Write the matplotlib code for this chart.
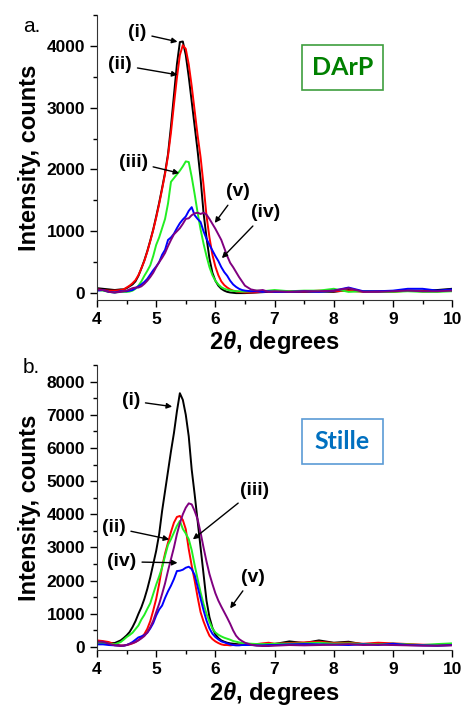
"""XRD intensity vs 2theta, DArP and Stille polymers."""
import numpy as np
from matplotlib import pyplot as plt
from matplotlib.patches import Rectangle
from matplotlib.ticker import MultipleLocator

plt.rcParams['font.family'] = ['Liberation Sans', 'DejaVu Sans']
plt.rcParams['font.weight'] = 'bold'
plt.rcParams['mathtext.fontset'] = 'custom'
plt.rcParams['mathtext.it'] = 'Liberation Sans:italic:bold'

# 2theta grid (degrees), denser through the peak
two_theta = np.concatenate([
    [4.0, 4.1, 4.2, 4.3, 4.4],
    np.round(np.arange(4.45, 6.501, 0.05), 2),
    [6.6, 6.7, 6.8, 6.9, 7.0],
    np.arange(7.25, 10.01, 0.25),
])

# ---- panel a: DArP ----
darp_i = [80, 70, 60, 50, 60,
          60, 80, 110, 140, 190, 280, 400, 530, 680, 850, 1030, 1240, 1460, 1700,
          1950, 2250, 2700, 3200, 3700, 4060, 4070, 3850, 3500, 3100, 2700, 2300,
          1850, 1300, 900, 560, 330, 200, 120, 70, 40, 20, 10, 5, 0, 0, 0, 0,
          5, 10, 15, 20, 20,
          20, 20, 25, 20, 50, 30, 25, 30, 40, 40, 50, 70]
darp_ii = [60, 50, 40, 40, 50,
           60, 90, 120, 160, 210, 290, 400, 520, 670, 840, 1020, 1220, 1440, 1680,
           1930, 2220, 2600, 3050, 3480, 3850, 4010, 3950, 3700, 3350, 2950, 2550,
           2200, 1750, 1250, 900, 620, 430, 290, 190, 130, 90, 60, 40, 30, 20, 15, 10,
           10, 15, 20, 30, 20,
           30, 25, 40, 30, 40, 20, 30, 20, 40, 30, 30, 40]
darp_iii = [50, 40, 20, 10, 20,
            20, 20, 25, 40, 70, 120, 190, 280, 360, 450, 600, 780, 900, 1050,
            1200, 1450, 1800, 1860, 1920, 1980, 2050, 2130, 2120, 1880, 1600, 1300,
            1030, 800, 600, 420, 290, 200, 140, 95, 70, 55, 45, 35, 30, 30, 25, 25,
            30, 40, 30, 40, 50,
            30, 40, 40, 70, 20, 30, 20, 20, 30, 20, 20, 30]
darp_iv = [40, 50, 20, 10, 30,
           30, 30, 40, 50, 80, 110, 140, 180, 230, 300, 370, 430, 500, 620,
           700, 860, 900, 960, 1050, 1130, 1190, 1240, 1330, 1390, 1260, 1200,
           1150, 1000, 880, 780, 690, 600, 520, 420, 340, 280, 200, 140, 100, 70, 50, 40,
           30, 30, 20, 30, 20,
           20, 30, 20, 40, 90, 30, 30, 40, 70, 70, 40, 60]
darp_v = [60, 50, 20, 10, 20,
          30, 40, 60, 80, 90, 90, 110, 150, 200, 260, 330, 420, 500, 570,
          650, 760, 860, 950, 1000, 1050, 1120, 1200, 1210, 1260, 1290, 1300,
          1280, 1300, 1270, 1200, 1120, 1040, 950, 860, 730, 600, 490, 420, 340, 260, 190, 120,
          60, 40, 50, 20, 30,
          20, 30, 30, 40, 80, 20, 20, 30, 40, 30, 30, 40]

# ---- panel b: Stille ----
stille_i = [150, 150, 120, 120, 200,
            270, 350, 450, 600, 780, 1000, 1200, 1450, 1750, 2100, 2500, 2900, 3400, 4100,
            4700, 5300, 5900, 6450, 7100, 7650, 7450, 7000, 6350, 5350, 4600, 3800,
            3000, 2200, 1400, 900, 580, 380, 270, 200, 160, 130, 110, 100, 90, 80, 80, 80,
            70, 60, 60, 80, 90,
            170, 120, 200, 130, 160, 80, 100, 70, 60, 60, 50, 60]
stille_ii = [200, 180, 150, 80, 50,
             50, 60, 80, 110, 150, 210, 290, 390, 550, 780, 1100, 1450, 1900, 2420,
             2820, 3150, 3470, 3750, 3920, 3950, 3830, 3550, 2950, 2450, 2000, 1500,
             1050, 770, 540, 340, 240, 170, 120, 80, 60, 60, 50, 60, 60, 60, 70, 80,
             80, 90, 110, 130, 100,
             120, 140, 160, 120, 130, 100, 130, 110, 90, 70, 60, 70]
stille_iii = [130, 110, 100, 80, 150,
              220, 300, 360, 430, 540, 650, 830, 970, 1150, 1320, 1600, 1880, 2130, 2400,
              2750, 3080, 3250, 3450, 3650, 3800, 3560, 3420, 3250, 2920, 2470, 2050,
              1650, 1300, 1000, 760, 560, 440, 370, 320, 280, 250, 220, 180, 160, 140, 120, 110,
              100, 90, 90, 90, 100,
              100, 110, 130, 100, 110, 90, 80, 100, 80, 60, 90, 110]
stille_iv = [80, 80, 60, 50, 40,
             40, 60, 100, 150, 220, 290, 320, 360, 430, 560, 720, 950, 1130, 1250,
             1480, 1680, 1850, 2050, 2290, 2300, 2330, 2390, 2420, 2350, 2170, 1820,
             1460, 1110, 800, 560, 400, 300, 230, 170, 140, 110, 80, 60, 50, 50, 60, 60,
             60, 50, 50, 60, 60,
             80, 90, 80, 70, 60, 80, 60, 100, 60, 50, 40, 60]
stille_v = [160, 160, 100, 50, 30,
            40, 60, 90, 120, 150, 200, 260, 330, 440, 600, 790, 1050, 1300, 1600,
            1920, 2300, 2650, 3000, 3400, 3730, 4000, 4200, 4330, 4300, 4100, 3850,
            3450, 3000, 2580, 2200, 1900, 1620, 1400, 1220, 1050, 880, 700, 500, 340, 240, 180, 130,
            70, 40, 30, 30, 40,
            60, 50, 60, 70, 90, 60, 70, 60, 50, 40, 40, 50]

colors = ['black', '#FF0000', '#22EE22', '#0000FF', '#800080']

# annotation: label, text (x, y), arrow tip (x, y)
darp_notes = [('(i)', (4.68, 4210), (5.36, 4065)),
              ('(ii)', (4.39, 3690), (5.36, 3530)),
              ('(iii)', (4.61, 2120), (5.39, 1940)),
              ('(v)', (6.38, 1640), (5.99, 1135)),
              ('(iv)', (6.85, 1300), (6.11, 565))]
stille_notes = [('(i)', (4.57, 7420), (5.27, 7245)),
                ('(iii)', (6.66, 4730), (5.62, 3245)),
                ('(ii)', (4.28, 3600), (5.22, 3245)),
                ('(iv)', (4.42, 2570), (5.36, 2540)),
                ('(v)', (6.63, 2100), (6.25, 1165))]


def draw_panel(ax, series, notes, ylim, tag, tag_color, edge_color, box_y):
    for vals, c in zip(series, colors):
        ax.plot(two_theta, vals, color=c, lw=1.4)
    ax.set_xlim(4, 10)
    ax.set_ylim(*ylim)
    ax.xaxis.set_major_locator(MultipleLocator(1))
    ax.xaxis.set_minor_locator(MultipleLocator(0.5))
    ax.yaxis.set_major_locator(MultipleLocator(1000))
    ax.yaxis.set_minor_locator(MultipleLocator(500))
    ax.set_yticks(np.arange(0, ylim[1], 1000))
    ax.tick_params(which='major', direction='out', length=5, width=1, labelsize=12.5)
    ax.tick_params(which='minor', direction='out', length=3, width=1)
    for lab in ax.get_xticklabels() + ax.get_yticklabels():
        lab.set_fontweight('bold')
    for s in ['top', 'right']:
        ax.spines[s].set_visible(False)
    for s in ['left', 'bottom']:
        ax.spines[s].set_color('#333333')
    ax.set_xlabel(r'2$\theta$, degrees', fontsize=17, fontweight='bold', labelpad=2)
    ax.set_ylabel('Intensity, counts', fontsize=17, fontweight='bold', labelpad=4)
    for lab, txt, tip in notes:
        ax.annotate(lab, xy=tip, xytext=txt, ha='center', va='center',
                    fontsize=14, fontweight='bold',
                    arrowprops=dict(arrowstyle='-|>', color='black', lw=1,
                                    mutation_scale=8, shrinkA=2, shrinkB=0))
    ax.add_patch(Rectangle((0.578, box_y), 0.226, 0.156, transform=ax.transAxes,
                           fill=False, edgecolor=edge_color, lw=1.2))
    ax.text(0.691, box_y + 0.078, tag, transform=ax.transAxes, ha='center',
            va='center', color=tag_color, fontsize=18, fontweight='bold',
            family=['Lato', 'DejaVu Sans'])


fig = plt.figure(figsize=(4.63, 7.09), dpi=100)
ax1 = fig.add_axes([0.2095, 0.577, 0.767, 0.402])
ax2 = fig.add_axes([0.2095, 0.0832, 0.767, 0.402])

draw_panel(ax1, [darp_i, darp_ii, darp_iii, darp_iv, darp_v], darp_notes,
           (-110, 4500), 'DArP', '#008000', '#3E9E3E', 0.737)
draw_panel(ax2, [stille_i, stille_ii, stille_iii, stille_iv, stille_v], stille_notes,
           (-90, 8500), 'Stille', '#0070C0', '#5B9BD5', 0.653)

fig.text(0.05, 0.955, 'a.', fontsize=15, fontweight='normal')
fig.text(0.05, 0.474, 'b.', fontsize=15, fontweight='normal')

plt.savefig('out.png', dpi=100)
